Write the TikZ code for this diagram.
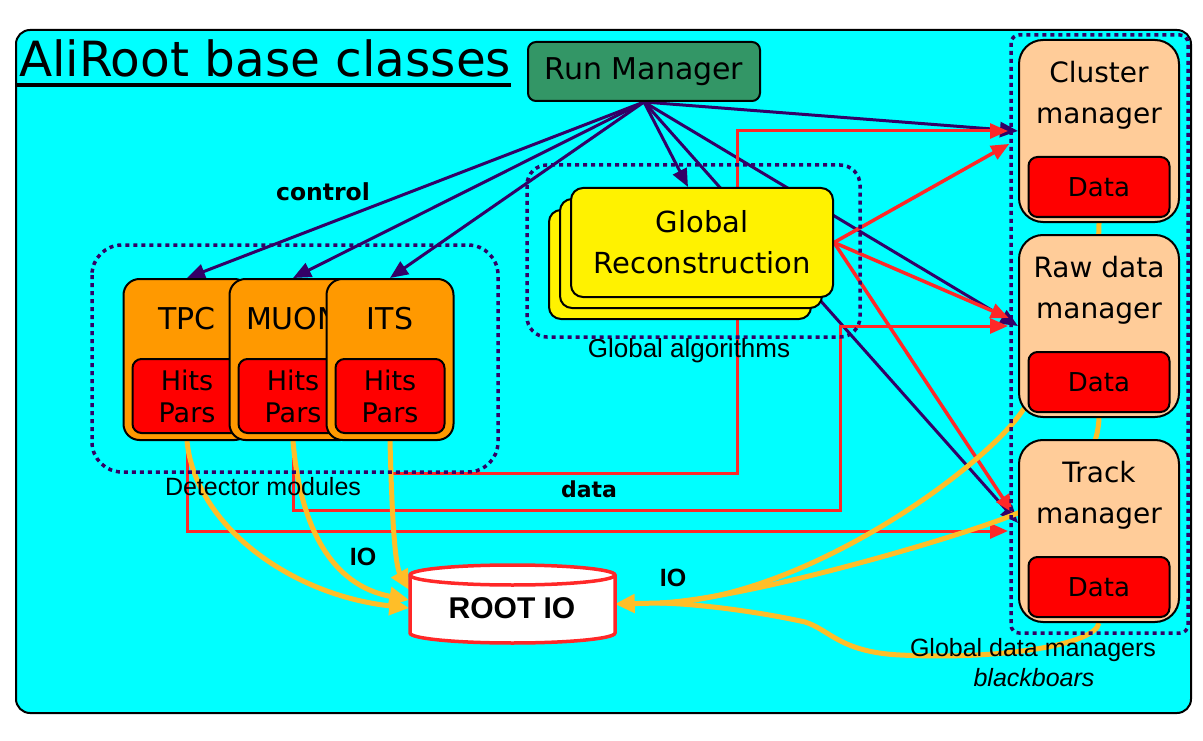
\documentclass[tikz,border=0pt]{standalone}
\usepackage{fontspec}
\newfontfamily\comic{DejaVu Sans}
\newfontfamily\arial{Liberation Sans}
\usetikzlibrary{arrows.meta}
\pgfdeclarelayer{back}
\pgfdeclarelayer{wires}
\pgfsetlayers{back,wires,main}
\definecolor{bgcyan}{RGB}{0,255,255}
\definecolor{rmgreen}{RGB}{51,150,102}
\definecolor{detorange}{RGB}{255,153,0}
\definecolor{peach}{RGB}{255,204,153}
\definecolor{ctrlpurple}{RGB}{51,0,102}
\definecolor{datared}{RGB}{255,40,40}
\definecolor{iogold}{RGB}{255,190,40}

\begin{document}
\begin{tikzpicture}[x=1pt, y=-1pt,
  lab/.style 2 args={font=\comic\fontsize{#1}{#2}\selectfont, align=center, inner sep=0pt},
  note/.style={font=\arial\fontsize{#1}{#1}\selectfont, inner sep=0pt},
  ctrl/.style={draw=ctrlpurple, line width=3pt, -{Triangle[length=18pt,width=15pt]}},
  dataline/.style={draw=datared, line width=3pt, -{Triangle[length=18pt,width=15pt]}, shorten >=10pt},
  ioline/.style={draw=iogold, line width=5pt},
  iotip/.style={-{Triangle[length=20pt,width=18pt]}},
  grp/.style={draw=ctrlpurple, line width=3.5pt, dash pattern=on 4pt off 4pt},
  rmbox/.style={draw, line width=2pt, fill=rmgreen, rounded corners=8pt, minimum width=232pt, minimum height=59pt},
  detbox/.style={draw, line width=2pt, fill=detorange, rounded corners=16pt, minimum width=127pt, minimum height=161pt},
  hitbox/.style={draw, line width=2pt, fill=red, rounded corners=9pt, minimum width=109pt, minimum height=74pt},
  mgrbox/.style={draw, line width=2pt, fill=peach, rounded corners=24pt, minimum width=160pt, minimum height=182pt},
  databox/.style={draw, line width=2pt, fill=red, rounded corners=9pt, minimum width=141pt, minimum height=60pt},
  recobox/.style={draw, line width=2pt, fill=yellow, rounded corners=12pt},
  cyl/.style={draw=datared, line width=3.5pt}]

  % ── 底板：青色圆角框 ──
  \begin{pgfonlayer}{back}
    \draw[line width=2pt, fill=bgcyan, rounded corners=14pt] (16,30) rectangle (1191,713);
  \end{pgfonlayer}

  % ── 标题 ──
  \node[lab={48.5}{48.5}, anchor=base west] (title) at (19,77) {AliRoot base classes};
  \draw[line width=4pt] (17,85) -- (511,85);

  % ── 三个虚线分组框 ──
  \draw[grp, rounded corners=30pt] (92,245) rectangle (498,472);
  \draw[grp, rounded corners=20pt] (527,165) rectangle (860,337);
  \draw[grp, rounded corners=8pt] (1011,35) rectangle (1188,633);

  % ── Run Manager ──
  \node[rmbox, lab={30}{30}] (rm) at (644,71.5) {Run Manager};

  % ── 探测器模块（x/名字/文字）──
  \foreach \x/\nm/\txt in {187/tpc/TPC, 293/muon/MUON, 390/its/ITS} {
    \node[detbox] (\nm) at (\x,359.5) {};
    \node[lab={30}{30}] (\nm lab) at (\x,319) {\txt};
    \node[hitbox, lab={27}{32}] (\nm hits) at (\x,396) {Hits\\Pars};
  }

  % ── Global Reconstruction：后面两层 + 前面一层 ──
  \foreach \d in {22,11}
    \draw[recobox] ({571-\d},{188+\d}) rectangle ({833-\d},{297+\d});
  \node[recobox, lab={29}{41}, minimum width=262pt, minimum height=109pt] (gr) at (702,242.5) {Global\\Reconstruction};

  % ── 右侧三个数据管理器（上沿 y/名字/文字）──
  \foreach \y/\nm/\txt in {40/cm/{Cluster\\manager}, 235/rdm/{Raw data\\manager}, 440/tm/{Track\\manager}} {
    \node[mgrbox] (\nm) at (1099,\y+91) {};
    \node[lab={28}{41}] (\nm lab) at (1099,\y+55) {\txt};
    \node[databox, lab={26}{26}] (\nm data) at (1099,\y+147) {Data};
  }

  % ── ROOT IO 圆柱 ──
  \filldraw[cyl, fill=white] (410,575) -- (410,633) arc[start angle=180, end angle=0, x radius=102.5, y radius=10]
    -- (615,575) arc[start angle=0, end angle=-180, x radius=102.5, y radius=10] -- cycle;
  \draw[cyl] (410,575) arc[start angle=180, end angle=0, x radius=102.5, y radius=10];
  \node[note=30, minimum width=205pt, minimum height=78pt] (rootio) at (512,608) {\bfseries ROOT IO};

  % ── 文字标注 ──
  \node[lab={23.5}{23.5}] (ctrllab) at (323,192) {\bfseries control};
  \node[lab={22}{22}] (datalab) at (589,489) {\bfseries data};
  \node[note=25] (iolab1) at (363,557) {\bfseries IO};
  \node[note=25] (iolab2) at (673,578) {\bfseries IO};
  \node[note=25] (detlab) at (263,487) {Detector modules};
  \node[note=26] (alglab) at (689,351) {Global algorithms};
  \node[note=25] (gdmlab) at (1033,650) {Global data managers};
  \node[note=25] (bblab) at (1034,678) {\itshape blackboars};

  % ── 箭头落点 ──
  \coordinate (grin) at ([xshift=-14pt]gr.north);
  \coordinate (tmin) at ([yshift=8pt]tm.west);
  \coordinate (cmred) at ([yshift=-8pt]cm.west);
  \coordinate (rdmred) at ([yshift=4pt]rdm.west);
  \coordinate (tmred) at ([yshift=10pt]tm.west);
  \coordinate (io1) at (rootio.west);
  \coordinate (io2) at ([yshift=8pt]rootio.west);
  \coordinate (io3) at ([yshift=18pt]rootio.west);
  \coordinate (io4) at ([yshift=4pt]rootio.east);
  \coordinate (iojoin) at (660,603);

  \begin{pgfonlayer}{wires}
    % ── control：Run Manager 出发 ──
    \foreach \dst in {tpc.north, muon.north, its.north, grin, cm.west, rdm.west, tmin}
      \draw[ctrl] (rm.south) -- (\dst);

    % ── data：红色折线与斜线 ──
    \draw[dataline] (its.south) |- (737,473) |- (cm.west);
    \draw[dataline] (muon.south) |- (840,510) |- (rdm.west);
    \draw[dataline] (tpc.south) |- (tm.west);
    \foreach \dst in {cmred, rdmred, tmred}
      \draw[dataline, line width=3.5pt] (gr.east) -- (\dst);

    % ── IO：左边三条到圆柱 ──
    \draw[ioline, iotip] (tpc.south) .. controls (195,525) and (290,595) .. (io1);
    \draw[ioline, iotip] (muon.south) .. controls (300,525) and (330,585) .. (io2);
    \draw[ioline, iotip] (its.south) .. controls (392,520) and (395,565) .. (io3);

    % ── IO：右边三条汇合后进圆柱 ──
    \draw[ioline] (cm.south) .. controls (1099,300) and (1053,365) .. (1023,410)
      .. controls (983,470) and (800,600) .. (iojoin);
    \draw[ioline] (rdm.south) .. controls (1097,470) and (1050,500) .. (1013,515)
      .. controls (953,539) and (750,598) .. (iojoin);
    \draw[ioline] (tm.south) .. controls (1095,645) and (1000,660) .. (900,655)
      .. controls (840,652) and (830,630) .. (805,622)
      .. controls (760,612) and (700,604) .. (iojoin);
    \draw[ioline, iotip] (iojoin) -- (io4);
  \end{pgfonlayer}

  \path[use as bounding box] (0,0) rectangle (1203,741);
\end{tikzpicture}
\end{document}
